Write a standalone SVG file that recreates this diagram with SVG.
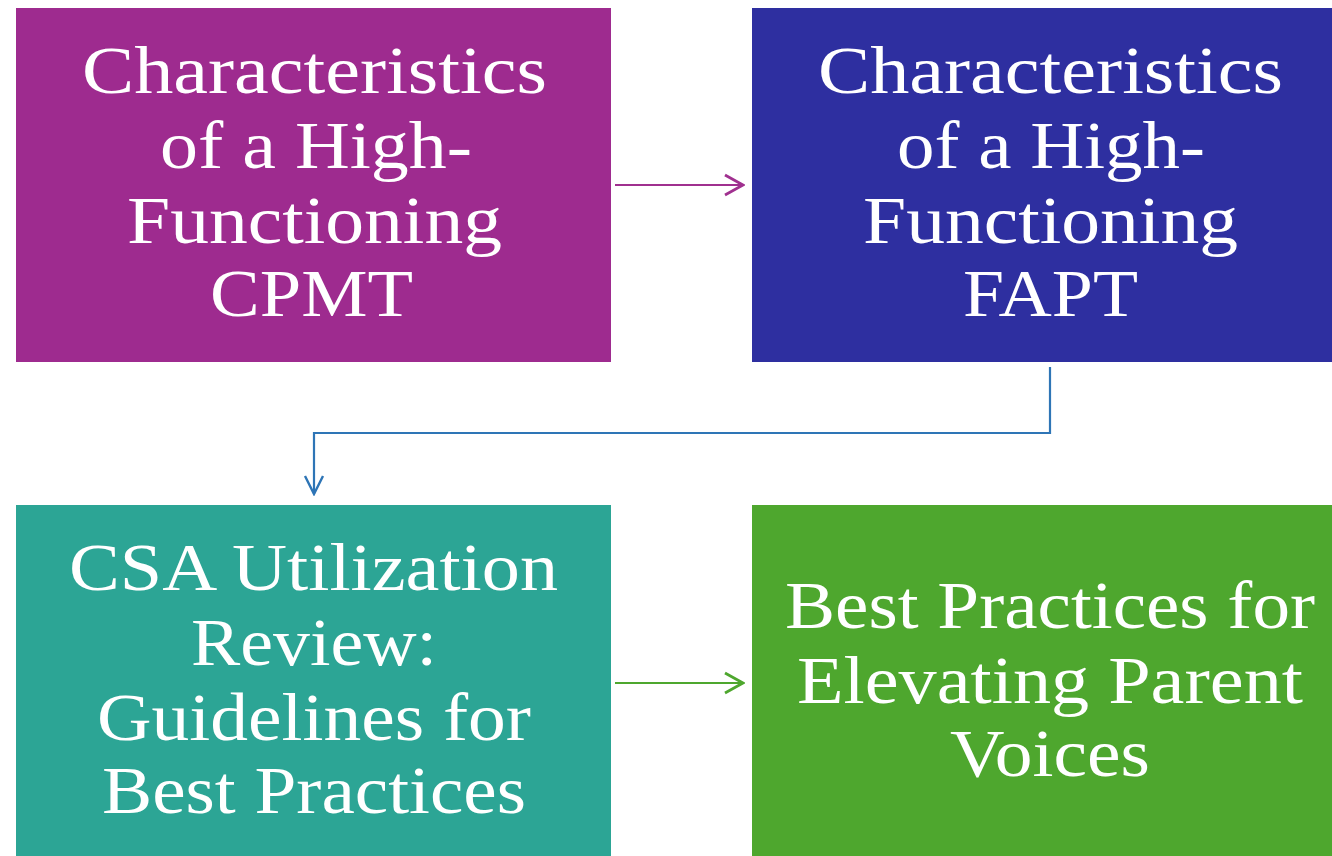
<svg xmlns="http://www.w3.org/2000/svg" width="1332" height="856" viewBox="0 0 1332 856">
<style>
.t{font-family:"Liberation Serif","DejaVu Serif",serif;font-size:67px;fill:#fff;text-anchor:middle}
.c{fill:none;stroke-width:2.2}
</style>
<defs>
<marker id="ap" markerWidth="22" markerHeight="24" refX="20" refY="12" orient="auto" markerUnits="userSpaceOnUse"><path d="M2,2 L20,12 L2,22" fill="none" stroke="#a0308f" stroke-width="2.8"/></marker>
<marker id="ab" markerWidth="22" markerHeight="24" refX="20" refY="12" orient="auto" markerUnits="userSpaceOnUse"><path d="M2,3 L20,12 L2,21" fill="none" stroke="#2e75b6" stroke-width="2.4"/></marker>
<marker id="ag" markerWidth="22" markerHeight="24" refX="20" refY="12" orient="auto" markerUnits="userSpaceOnUse"><path d="M2,2 L20,12 L2,22" fill="none" stroke="#4ea72e" stroke-width="2.8"/></marker>
</defs>
<rect width="1332" height="856" fill="#fff"/>
<g id="n1"><rect x="16" y="8" width="595" height="354" fill="#9e2b8f"/>
<text class="t" x="314.5" y="93" textLength="465" lengthAdjust="spacingAndGlyphs">Characteristics</text>
<text class="t" x="316" y="168" textLength="312" lengthAdjust="spacingAndGlyphs">of a High-</text>
<text class="t" x="314.5" y="243" textLength="375" lengthAdjust="spacingAndGlyphs">Functioning</text>
<text class="t" x="311.5" y="316" textLength="203" lengthAdjust="spacingAndGlyphs">CPMT</text></g>
<g id="n2"><rect x="752" y="8" width="580" height="354" fill="#2e2fa0"/>
<text class="t" x="1050.5" y="93" textLength="465" lengthAdjust="spacingAndGlyphs">Characteristics</text>
<text class="t" x="1051" y="168" textLength="308" lengthAdjust="spacingAndGlyphs">of a High-</text>
<text class="t" x="1050.5" y="243" textLength="375" lengthAdjust="spacingAndGlyphs">Functioning</text>
<text class="t" x="1050.5" y="316" textLength="175" lengthAdjust="spacingAndGlyphs">FAPT</text></g>
<g id="n3"><rect x="16" y="505" width="595" height="351" fill="#2ca595"/>
<text class="t" x="313.5" y="590" textLength="489" lengthAdjust="spacingAndGlyphs">CSA Utilization</text>
<text class="t" x="314" y="665" textLength="246" lengthAdjust="spacingAndGlyphs">Review:</text>
<text class="t" x="314" y="740" textLength="434" lengthAdjust="spacingAndGlyphs">Guidelines for</text>
<text class="t" x="314" y="813" textLength="424" lengthAdjust="spacingAndGlyphs">Best Practices</text></g>
<g id="n4"><rect x="752" y="505" width="580" height="351" fill="#4ea72e"/>
<text class="t" x="1050" y="628" textLength="530" lengthAdjust="spacingAndGlyphs">Best Practices for</text>
<text class="t" x="1050" y="703" textLength="506" lengthAdjust="spacingAndGlyphs">Elevating Parent</text>
<text class="t" x="1050" y="776" textLength="200" lengthAdjust="spacingAndGlyphs">Voices</text></g>
<g id="connectors">
<path class="c" d="M615,185 H743" stroke="#a0308f" marker-end="url(#ap)"/>
<path class="c" d="M1050,367 V433 H314 V494" stroke="#2e75b6" marker-end="url(#ab)"/>
<path class="c" d="M615,683 H743" stroke="#4ea72e" marker-end="url(#ag)"/>
</g>
</svg>
